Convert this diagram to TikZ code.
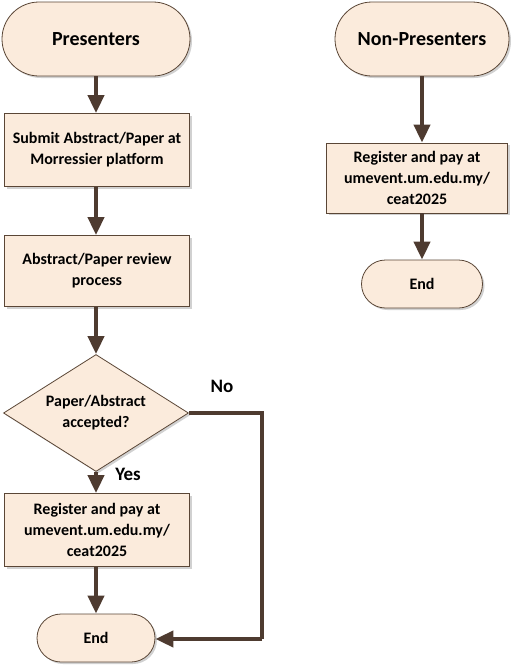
\documentclass[tikz,border=0pt]{standalone}
\usepackage{fontspec}
\setmainfont{Carlito}
\usetikzlibrary{arrows.meta,shapes.misc,shapes.geometric,shadows}
\definecolor{boxfill}{HTML}{FBEBDC}
\definecolor{edge}{HTML}{5A4636}
\definecolor{arr}{HTML}{4E3B30}
\tikzset{
  sh/.style={drop shadow={shadow xshift=2pt,shadow yshift=-2pt,fill=black!30,opacity=0.6}},
  term/.style={rounded rectangle,draw=edge,line width=0.8pt,fill=boxfill,sh,inner sep=0pt,font=\bfseries\fontsize{20}{24}\selectfont},
  endterm/.style={term,font=\bfseries\fontsize{16}{19}\selectfont},
  proc/.style={rectangle,draw=edge,line width=0.8pt,fill=boxfill,sh,inner sep=0pt,align=center,font=\bfseries\fontsize{16}{21}\selectfont},
  dec/.style={diamond,draw=edge,line width=0.8pt,fill=boxfill,sh,inner sep=0pt,shape aspect=1.58,align=center,font=\bfseries\fontsize{16}{21}\selectfont},
  flow/.style={draw=arr,line width=4pt,-{Triangle[width=16pt,length=18pt]}},
  lbl/.style={font=\bfseries\fontsize{19}{22}\selectfont}
}
\begin{document}
\begin{tikzpicture}[x=1pt,y=-1pt]
\useasboundingbox (0,0) rectangle (519,665);
% left column
\node[term,minimum width=188pt,minimum height=74pt] (pres) at (96,39) {Presenters};
\node[proc,minimum width=185pt,minimum height=73pt] (sub) at (97,150) {Submit Abstract/Paper at\\Morressier platform};
\node[proc,minimum width=185pt,minimum height=71pt] (rev) at (97,271) {Abstract/Paper review\\process};
\node[dec,minimum width=185pt,minimum height=117pt] (acc) at (96,413) {Paper/Abstract\\accepted?};
\node[proc,minimum width=185pt,minimum height=73pt] (reg) at (97,530) {Register and pay at\\umevent.um.edu.my/\\ceat2025};
\node[endterm,minimum width=118pt,minimum height=48pt] (end) at (96,638) {End};
\coordinate (c1) at (262,407);
\coordinate (c2) at (262,639);
% right column
\node[term,minimum width=174pt,minimum height=74pt] (npres) at (422,39) {Non-Presenters};
\node[proc,minimum width=181pt,minimum height=70pt] (nreg) at (417,178) {Register and pay at\\umevent.um.edu.my/\\ceat2025};
\node[endterm,minimum width=121pt,minimum height=48pt] (nend) at (422,284) {End};
% connectors
\draw[flow] (pres.south) -- (pres.south |- sub.north);
\draw[flow] (sub.south -| pres.south) -- (pres.south |- rev.north);
\draw[flow] (rev.south -| pres.south) -- (acc.north);
\draw[flow] (acc.south) -- (acc.south |- reg.north);
\draw[flow] (reg.south -| acc.south) -- (end.north);
\draw[draw=arr,line width=4pt] (acc.east) -- (c1 |- acc.east) -- (c2);
\draw[flow] (c2) -- (end.east |- c2);
\draw[flow] (npres.south) -- (npres.south |- nreg.north);
\draw[flow] (nreg.south -| npres.south) -- (nend.north);
% labels
\node[lbl] (no) at (222,386) {No};
\node[lbl] (yes) at (128,474) {Yes};
\end{tikzpicture}
\end{document}
